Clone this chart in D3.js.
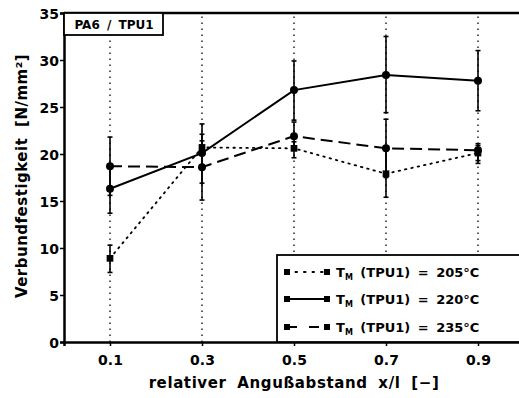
<!DOCTYPE html>
<html>
<head>
<meta charset="utf-8">
<script src="https://cdn.jsdelivr.net/npm/d3@7"></script>
<style>
  body { margin: 0; background: #fff; }
  svg { display: block; font-family: 'DejaVu Sans', sans-serif; font-weight: bold; }
</style>
</head>
<body>
<svg id="chart" width="519" height="398"></svg>
<script>
const svg = d3.select('#chart');

// data
const positions = [0.1, 0.3, 0.5, 0.7, 0.9];
const xTicks = ['0.1', '0.3', '0.5', '0.7', '0.9'];
const yTicks = [0, 5, 10, 15, 20, 25, 30, 35];

const t205 = [8.9, 20.7, 20.6, 17.9, 20.1];
const t205Lo = [7.4, 19.9, 19.6, 15.4, 19.3];
const t205Hi = [10.3, 21.4, 21.3, 20.4, 20.9];

const t220 = [16.3, 20.1, 26.8, 28.4, 27.8];
const t220Lo = [13.7, 16.9, 23.6, 24.4, 24.6];
const t220Hi = [18.9, 23.2, 29.9, 32.5, 31.0];

const t235 = [18.7, 18.6, 21.9, 20.6, 20.4];
const t235Lo = [15.6, 15.1, 20.4, 17.5, 19.0];
const t235Hi = [21.8, 22.1, 23.4, 23.7, 21.1];

const seriesNames = ['205', '220', '235'];

const LEFT = 64, TOP = 13, BOTTOM = 342;
const FONT = "'DejaVu Sans', sans-serif";

const x = d3.scaleLinear().domain([0, 1]).range([LEFT, LEFT + 460]);
const y = d3.scaleLinear().domain([0, 35]).range([BOTTOM, TOP]);

const series = [
  { name: seriesNames[0], vals: t205, lo: t205Lo, hi: t205Hi, dash: '1.5,5', shape: d3.symbolSquare },
  { name: seriesNames[1], vals: t220, lo: t220Lo, hi: t220Hi, dash: null, shape: d3.symbolCircle },
  { name: seriesNames[2], vals: t235, lo: t235Lo, hi: t235Hi, dash: '12,6', shape: d3.symbolCircle },
];

// vertical dotted grid
svg.append('g')
  .selectAll('line')
  .data(positions)
  .join('line')
  .attr('x1', d => x(d)).attr('x2', d => x(d))
  .attr('y1', y(0)).attr('y2', y(35))
  .style('stroke', '#000')
  .style('stroke-width', 1.3)
  .style('stroke-dasharray', '1.5,4.5');

// axes
const xAxis = d3.axisBottom(x).tickValues(positions).tickFormat((d, i) => xTicks[i]).tickSize(4);
const xg = svg.append('g').attr('transform', `translate(0,${BOTTOM})`).call(xAxis);
const yAxis = d3.axisLeft(y).tickValues(yTicks).tickSize(4);
const yg = svg.append('g').attr('transform', `translate(${LEFT},0)`).call(yAxis);

[xg, yg].forEach(g => {
  g.select('.domain').style('stroke-width', 2.5);
  g.selectAll('.tick line').style('stroke-width', 1.5);
  g.selectAll('.tick text').style('font-size', '14px').style('font-weight', 'bold')
    .style('font-family', FONT).style('fill', '#000');
});
xg.selectAll('.tick text').attr('dy', '1.15em');
yg.selectAll('.tick text').attr('x', -5).attr('dy', '0.36em');

// top frame line
svg.append('line')
  .attr('x1', x(0)).attr('x2', x(1))
  .attr('y1', y(35)).attr('y2', y(35))
  .style('stroke', '#000').style('stroke-width', 2.5);

// error bars
const errG = svg.append('g');
series.forEach(s => {
  positions.forEach((p, i) => {
    const cx = x(p);
    errG.append('line')
      .attr('x1', cx).attr('x2', cx)
      .attr('y1', y(s.lo[i])).attr('y2', y(s.hi[i]))
      .style('stroke', '#000').style('stroke-width', 1.6);
    [s.lo[i], s.hi[i]].forEach(v => errG.append('line')
      .attr('x1', cx - 2.5).attr('x2', cx + 2.5)
      .attr('y1', y(v)).attr('y2', y(v))
      .style('stroke', '#000').style('stroke-width', 1.6));
  });
});

// lines
const line = d3.line().x((d, i) => x(positions[i])).y(d => y(d));
series.forEach(s => {
  svg.append('path')
    .datum(s.vals)
    .attr('d', line)
    .style('fill', 'none')
    .style('stroke', '#000')
    .style('stroke-width', s.dash === '1.5,5' ? 1.8 : 2)
    .style('stroke-linecap', s.dash === '1.5,5' ? 'round' : 'butt')
    .style('stroke-dasharray', s.dash);
});

// markers
series.forEach(s => {
  svg.append('g')
    .selectAll('path')
    .data(s.vals)
    .join('path')
    .attr('transform', (d, i) => `translate(${x(positions[i])},${y(d)})`)
    .attr('d', d3.symbol().type(s.shape).size(s.shape === d3.symbolSquare ? 45 : 50))
    .style('fill', '#000');
});

// PA6 / TPU1 label box
svg.append('rect')
  .attr('x', LEFT).attr('y', TOP)
  .attr('width', 99).attr('height', 22)
  .style('fill', '#fff').style('stroke', '#000').style('stroke-width', 1.8);
svg.append('text')
  .attr('x', LEFT + 50).attr('y', TOP + 16)
  .attr('text-anchor', 'middle')
  .style('font-size', '12px')
  .style('word-spacing', '3px')
  .text('PA6 / TPU1');

// legend
const lg = svg.append('g');
lg.append('rect')
  .attr('x', 277).attr('y', 255)
  .attr('width', 260).attr('height', BOTTOM - 255)
  .style('fill', '#fff').style('stroke', '#000').style('stroke-width', 1.8);
const legendY = [272, 299, 327];
series.forEach((s, i) => {
  const ly = legendY[i];
  lg.append('line')
    .attr('x1', 287).attr('x2', 327)
    .attr('y1', ly).attr('y2', ly)
    .style('stroke', '#000').style('stroke-width', 2)
    .style('stroke-linecap', s.dash === '1.5,5' ? 'round' : 'butt')
    .style('stroke-dasharray', s.dash === '1.5,5' ? '1.5,7' : (s.dash ? '10,12' : null));
  [287, 327].forEach(lx => lg.append('rect')
    .attr('x', lx - 3).attr('y', ly - 3).attr('width', 6).attr('height', 6)
    .style('fill', '#000'));
  const t = lg.append('text')
    .attr('x', 336).attr('y', ly + 5)
    .style('font-size', '13px')
    .style('word-spacing', '3px');
  t.append('tspan').text('T');
  t.append('tspan').attr('dy', 3).style('font-size', '8px').text('M');
  t.append('tspan').attr('dy', -3).text(` (TPU1) = ${s.name}°C`);
});

// axis titles
svg.append('text')
  .attr('x', 294).attr('y', 388)
  .attr('text-anchor', 'middle')
  .style('font-size', '15px')
  .style('letter-spacing', '0.6px')
  .style('word-spacing', '5px')
  .text('relativer Angußabstand x/l [−]');

svg.append('text')
  .attr('transform', 'translate(27,176) rotate(-90)')
  .attr('text-anchor', 'middle')
  .style('font-size', '15px')
  .style('letter-spacing', '0.5px')
  .style('word-spacing', '5px')
  .text('Verbundfestigkeit [N/mm²]');
</script>
</body>
</html>
